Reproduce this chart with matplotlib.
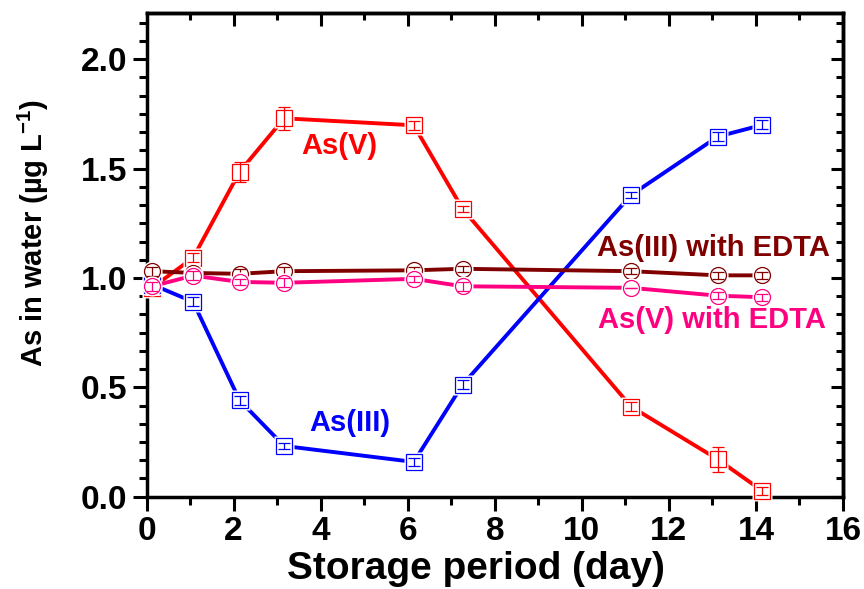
import matplotlib
matplotlib.use("Agg")
import matplotlib.pyplot as plt
import numpy as np
from matplotlib.ticker import MultipleLocator

plt.rcParams['font.family'] = ['Liberation Sans', 'DejaVu Sans']
plt.rcParams['font.weight'] = 'bold'
plt.rcParams['axes.labelweight'] = 'bold'
plt.rcParams['mathtext.fontset'] = 'custom'
plt.rcParams['mathtext.rm'] = 'Liberation Sans:bold'
plt.rcParams['mathtext.bf'] = 'Liberation Sans:bold'
plt.rcParams['mathtext.it'] = 'Liberation Sans:bold'

# storage day (x) and arsenic in water, ug/L
days = [0.13, 1.07, 2.14, 3.16, 6.14, 7.26, 11.13, 13.12, 14.15]
as_v = [0.956, 1.092, 1.486, 1.73, 1.698, 1.316, 0.412, 0.171, 0.026]
as_v_err = [0.02, 0.02, 0.045, 0.053, 0.02, 0.015, 0.02, 0.058, 0.02]
as_iii = [0.97, 0.891, 0.44, 0.232, 0.159, 0.512, 1.379, 1.646, 1.70]
as_iii_err = [0.02, 0.02, 0.02, 0.015, 0.02, 0.02, 0.015, 0.02, 0.02]
as_iii_edta = [1.031, 1.023, 1.019, 1.031, 1.035, 1.042, 1.031, 1.012, 1.012]
as_iii_edta_err = [0.02, 0.02, 0.02, 0.02, 0.015, 0.015, 0.015, 0.015, 0.015]
as_v_edta = [0.962, 1.011, 0.982, 0.978, 0.996, 0.962, 0.955, 0.919, 0.912]
as_v_edta_err = [0.02, 0.02, 0.015, 0.02, 0.015, 0.02, 0.0, 0.015, 0.015]

series = [
    (as_v, as_v_err, '#FF0000', 's'),
    (as_iii, as_iii_err, '#0000FF', 's'),
    (as_iii_edta, as_iii_edta_err, '#800000', 'o'),
    (as_v_edta, as_v_edta_err, '#FF0080', 'o'),
]

fig = plt.figure(figsize=(8.64, 5.89), dpi=100)
ax = fig.add_axes([0.1696, 0.1567, 0.8061, 0.8207])

z = 3
for vals, err, col, mk in series:
    ax.plot(days, vals, '-', color=col, lw=2.8, zorder=z, clip_on=False)
    # white halo gives the gap between line and marker
    ax.plot(days, vals, mk, ms=14.5, mfc='white', mec='none', zorder=z + 0.1, clip_on=False)
    ax.plot(days, vals, mk, ms=11.5, mfc='white', mec=col, mew=0.9, zorder=z + 0.2, clip_on=False)
    eb = ax.errorbar(days, vals, yerr=err, fmt='none', ecolor=col, elinewidth=0.9,
                     capsize=4.2, capthick=0.9, zorder=z + 0.3)
    for a in eb.lines[1] + eb.lines[2]:
        a.set_clip_on(False)
    z += 1

ax.set_xlim(0, 16)
ax.set_ylim(0, 2.21)
ax.xaxis.set_major_locator(MultipleLocator(2))
ax.xaxis.set_minor_locator(MultipleLocator(1))
ax.yaxis.set_minor_locator(MultipleLocator(0.5 / 6))
ax.set_yticks([0.0, 0.5, 1.0, 1.5, 2.0])
ax.set_yticklabels(['0.0', '0.5', '1.0', '1.5', '2.0'])

for s in ax.spines.values():
    s.set_linewidth(2.5)
ax.tick_params(which='both', direction='out', width=2.2, top=False, right=False,
               labelsize=24, pad=4)
ax.tick_params(which='major', length=10)
ax.tick_params(which='minor', length=6)

top = ax.secondary_xaxis('top')
top.xaxis.set_major_locator(MultipleLocator(2))
top.xaxis.set_minor_locator(MultipleLocator(1))
top.tick_params(which='both', direction='in', width=2.2, labeltop=False)
top.tick_params(which='major', length=9)
top.tick_params(which='minor', length=5)
top.spines['top'].set_linewidth(2.5)

right = ax.secondary_yaxis('right')
right.yaxis.set_major_locator(MultipleLocator(0.5))
right.yaxis.set_minor_locator(MultipleLocator(0.5 / 6))
right.tick_params(which='both', direction='in', width=2.2, labelright=False)
right.tick_params(which='major', length=9)
right.tick_params(which='minor', length=5)
right.spines['right'].set_linewidth(2.5)

ax.set_xlabel('Storage period (day)', fontsize=28)
ax.set_ylabel('As in water (µg L$^{-1}$)', fontsize=21)
ax.xaxis.set_label_coords(0.473, -0.112)
ax.yaxis.set_label_coords(-0.137, 0.545)

ax.text(4.44, 1.602, 'As(V)', color='#FF0000', fontsize=21, ha='center', va='center')
ax.text(4.67, 0.338, 'As(III)', color='#0000FF', fontsize=21, ha='center', va='center')
ax.text(13.02, 1.138, 'As(III) with EDTA', color='#800000', fontsize=21, ha='center', va='center')
ax.text(13.0, 0.806, 'As(V) with EDTA', color='#FF0080', fontsize=21, ha='center', va='center')

fig.savefig('out.png', dpi=100)
